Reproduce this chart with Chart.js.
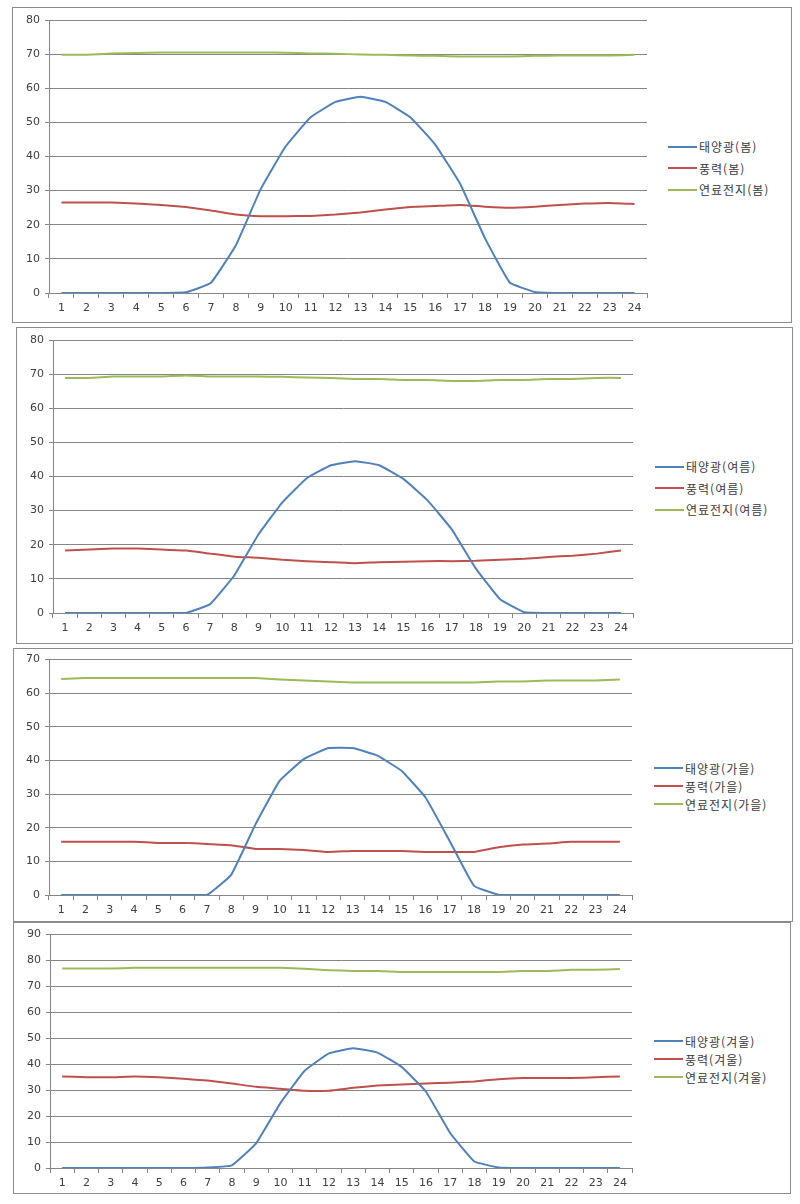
<!DOCTYPE html>
<html lang="ko">
<head>
<meta charset="UTF-8">
<title>계절별 발전량</title>
<script src="https://cdn.jsdelivr.net/npm/chart.js@4.4.0/dist/chart.umd.min.js"></script>
<style>
    * { margin: 0; padding: 0; box-sizing: border-box; }
    body { width: 800px; height: 1204px; background: #fff; position: relative; font-family: 'DejaVu Sans', sans-serif; }
    .frame { position: absolute; border: 1px solid #8c8c8c; background: #fff; }
    .cv { position: absolute; }
    .legend { position: absolute; font-family: 'Noto Sans CJK KR', sans-serif; font-size: 12px; color: #3a3a3a; letter-spacing: 1px; }
    .legend div { display: flex; align-items: center; white-space: nowrap; }
    .legend span.ln { display: inline-block; width: 29px; height: 2px; margin-right: 2px; }
</style>
</head>
<body>
<div class="frame" style="left:12px;top:7px;width:780px;height:316px;"></div>
<div class="frame" style="left:16px;top:327px;width:777px;height:317px;"></div>
<div class="frame" style="left:13px;top:648px;width:780px;height:274px;"></div>
<div class="frame" style="left:13px;top:922px;width:778px;height:272px;"></div>

<canvas id="c1" class="cv"></canvas>
<canvas id="c2" class="cv"></canvas>
<canvas id="c3" class="cv"></canvas>
<canvas id="c4" class="cv"></canvas>

<div id="lg1" class="legend"></div>
<div id="lg2" class="legend"></div>
<div id="lg3" class="legend"></div>
<div id="lg4" class="legend"></div>

<script>
const hours = ['1','2','3','4','5','6','7','8','9','10','11','12','13','14','15','16','17','18','19','20','21','22','23','24'];

const springSolar = [0, 0, 0, 0, 0, 0.2, 3, 14, 30.5, 43, 51.5, 56, 57.5, 56, 51.5, 43.5, 32, 16, 3, 0.3, 0, 0, 0, 0];
const springWind  = [26.5, 26.5, 26.5, 26.2, 25.8, 25.2, 24.2, 23, 22.5, 22.5, 22.6, 23, 23.6, 24.5, 25.2, 25.5, 25.8, 25.3, 25, 25.3, 25.8, 26.2, 26.4, 26.1];
const springFuel  = [69.8, 69.8, 70.2, 70.3, 70.5, 70.5, 70.5, 70.5, 70.5, 70.4, 70.2, 70.1, 69.9, 69.8, 69.6, 69.5, 69.3, 69.3, 69.3, 69.5, 69.6, 69.6, 69.6, 69.8];

const summerSolar = [0, 0, 0, 0, 0, 0, 2.6, 11, 23, 32.5, 39.5, 43.3, 44.5, 43.3, 39.3, 33, 24.5, 13, 4, 0.2, 0, 0, 0, 0];
const summerWind  = [18.3, 18.6, 18.9, 18.9, 18.6, 18.3, 17.4, 16.5, 16.2, 15.6, 15.2, 14.9, 14.6, 14.9, 15, 15.2, 15.2, 15.3, 15.6, 15.9, 16.4, 16.8, 17.4, 18.3];
const summerFuel  = [68.9, 68.9, 69.3, 69.3, 69.3, 69.6, 69.3, 69.3, 69.3, 69.2, 69, 68.9, 68.6, 68.6, 68.3, 68.3, 68, 68, 68.3, 68.3, 68.6, 68.6, 68.9, 68.9];

const autumnSolar = [0, 0, 0, 0, 0, 0, 0, 6, 21, 34, 40.5, 43.7, 43.7, 41.5, 37, 29, 16, 2.7, 0.1, 0, 0, 0, 0, 0];
const autumnWind  = [15.8, 15.8, 15.8, 15.8, 15.5, 15.5, 15.2, 14.8, 13.7, 13.7, 13.4, 12.8, 13.1, 13.1, 13.1, 12.8, 12.8, 12.8, 14.2, 15, 15.3, 15.8, 15.8, 15.8];
const autumnFuel  = [64.2, 64.5, 64.5, 64.5, 64.5, 64.5, 64.5, 64.5, 64.5, 64.1, 63.8, 63.5, 63.2, 63.2, 63.2, 63.2, 63.2, 63.2, 63.5, 63.5, 63.8, 63.8, 63.8, 64.1];

const winterSolar = [0, 0, 0, 0, 0, 0, 0.2, 1, 9.5, 25, 37.5, 44.2, 46.2, 44.5, 39, 29.5, 13.5, 2.5, 0.2, 0, 0, 0, 0, 0];
const winterWind  = [35.3, 35, 35, 35.3, 35, 34.4, 33.7, 32.6, 31.3, 30.6, 29.8, 29.8, 30.9, 31.8, 32.2, 32.6, 32.9, 33.4, 34.2, 34.7, 34.7, 34.7, 35, 35.3];
const winterFuel  = [76.9, 76.9, 76.9, 77.2, 77.2, 77.2, 77.2, 77.2, 77.2, 77.2, 76.8, 76.3, 76, 76, 75.6, 75.6, 75.6, 75.6, 75.6, 76, 76, 76.4, 76.4, 76.7];

const seasons = ['봄', '여름', '가을', '겨울'];
const sourceNames = ['태양광', '풍력', '연료전지'];
const seriesColors = ['#4f81bd', '#c0504d', '#9bbb59'];
const yMaxes = [80, 80, 70, 90];

const seriesBySeason = [
    [springSolar, springWind, springFuel],
    [summerSolar, summerWind, summerFuel],
    [autumnSolar, autumnWind, autumnFuel],
    [winterSolar, winterWind, winterFuel]
];

// layout of each panel on the page
const panels = [
    { left: 12, top: 7,   width: 645, height: 315, padTop: 13, yWidth: 37, xHeight: 29, lgLeft: 668, lgTop: 136, lgGap: 21.5 },
    { left: 16, top: 327, width: 627, height: 316, padTop: 13, yWidth: 37, xHeight: 30, lgLeft: 655, lgTop: 456, lgGap: 21.5 },
    { left: 13, top: 648, width: 629, height: 273, padTop: 11, yWidth: 36, xHeight: 26, lgLeft: 654, lgTop: 759, lgGap: 18 },
    { left: 13, top: 923, width: 629, height: 272, padTop: 9,  yWidth: 37, xHeight: 27, lgLeft: 654, lgTop: 1032, lgGap: 18 }
];

Chart.defaults.font.family = "'DejaVu Sans', sans-serif";
Chart.defaults.font.size = 11;
Chart.defaults.color = '#404040';

panels.forEach((p, i) => {
    const cv = document.getElementById('c' + (i + 1));
    cv.style.left = p.left + 'px';
    cv.style.top = p.top + 'px';
    cv.style.width = p.width + 'px';
    cv.style.height = p.height + 'px';
    cv.width = p.width;
    cv.height = p.height;

    const datasets = sourceNames.map((name, k) => ({
        label: name + '(' + seasons[i] + ')',
        data: seriesBySeason[i][k],
        borderColor: seriesColors[k],
        backgroundColor: seriesColors[k],
        borderWidth: 2,
        pointRadius: 0,
        tension: 0.1,
        fill: false
    }));

    new Chart(cv, {
        type: 'line',
        data: { labels: hours, datasets: datasets },
        options: {
            responsive: false,
            animation: false,
            layout: { padding: { top: p.padTop, right: 10, bottom: 0, left: 0 } },
            plugins: { legend: { display: false }, tooltip: { enabled: false } },
            scales: {
                x: {
                    offset: true,
                    grid: { offset: true, drawOnChartArea: false, drawTicks: true, tickLength: 5, color: '#868686' },
                    border: { color: '#868686' },
                    ticks: { padding: 4, maxRotation: 0, autoSkip: false },
                    afterFit: s => { s.height = p.xHeight; }
                },
                y: {
                    min: 0,
                    max: yMaxes[i],
                    ticks: { stepSize: 10, padding: 5 },
                    grid: { color: '#868686', tickLength: 4 },
                    border: { color: '#868686' },
                    afterFit: s => { s.width = p.yWidth; }
                }
            }
        }
    });

    // legend next to the plot
    const lg = document.getElementById('lg' + (i + 1));
    lg.style.left = p.lgLeft + 'px';
    lg.style.top = p.lgTop + 'px';
    datasets.forEach((ds) => {
        const row = document.createElement('div');
        row.style.height = p.lgGap + 'px';
        row.innerHTML = '<span class="ln" style="background:' + ds.borderColor + '"></span>' + ds.label;
        lg.appendChild(row);
    });
});
</script>
</body>
</html>
